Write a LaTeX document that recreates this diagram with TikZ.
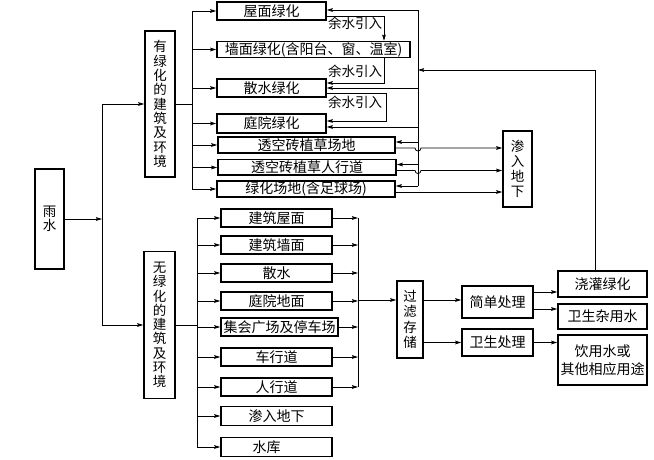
\documentclass[tikz,border=0pt]{standalone}
\usepackage{fontspec}
\newfontfamily\cjk{Noto Sans CJK SC}
\usetikzlibrary{arrows.meta,calc}
\begin{document}
\begin{tikzpicture}[x=1bp,y=-1bp,
  box/.style={draw,line width=1.5bp,inner sep=0pt,align=center,font=\cjk\fontsize{14bp}{16bp}\selectfont},
  vbox/.style={box,font=\cjk\fontsize{13.5bp}{14.3bp}\selectfont},
  ln/.style={line width=0.8bp},
  arr/.style={ln,-{Stealth[length=6bp,width=3.6bp,inset=0.8bp]}},
  lbl/.style={inner sep=0pt,font=\cjk\fontsize{13.5bp}{15bp}\selectfont}]
\useasboundingbox (0,0) rectangle (654,460);

% left part
\node[box,minimum width=29bp,minimum height=100bp,font=\cjk\fontsize{13.5bp}{14bp}\selectfont] (rain) at (49.5,219) {雨\\水};
\node[vbox,minimum width=30bp,minimum height=146bp] (g) at (160,104) {有\\绿\\化\\的\\建\\筑\\及\\环\\境};
\node[vbox,minimum width=31bp,minimum height=147bp] (ng) at (159.5,325) {无\\绿\\化\\的\\建\\筑\\及\\环\\境};

% upper boxes
\node[box,minimum width=109bp,minimum height=18bp] (roof) at (271.5,11) {屋面绿化};
\node[box,minimum width=193bp,minimum height=16bp] (wall) at (313.5,49.5) {墙面绿化(含阳台、窗、温室)};
\node[box,minimum width=109bp,minimum height=18bp] (sanshui) at (271.5,88) {散水绿化};
\node[box,minimum width=109bp,minimum height=19bp] (yard) at (271.5,123.5) {庭院绿化};
\node[box,minimum width=177bp,minimum height=16bp] (p1) at (306.5,145) {透空砖植草场地};
\node[box,minimum width=178bp,minimum height=15.5bp] (p2) at (307,167.5) {透空砖植草人行道};
\node[box,minimum width=178bp,minimum height=16bp] (p3) at (306,189) {绿化场地(含足球场)};
\node[vbox,minimum width=29bp,minimum height=76bp,font=\cjk\fontsize{13.5bp}{15bp}\selectfont] (seep) at (517.5,169) {渗\\入\\地\\下};

% lower boxes
\node[box,minimum width=111bp,minimum height=18bp] (b1) at (276.5,218) {建筑屋面};
\node[box,minimum width=111bp,minimum height=18bp] (b2) at (276.5,245) {建筑墙面};
\node[box,minimum width=111bp,minimum height=18bp] (b3) at (276.5,273) {散水};
\node[box,minimum width=111bp,minimum height=18bp] (b4) at (276.5,301) {庭院地面};
\node[box,minimum width=117bp,minimum height=18bp] (b5) at (279.5,327) {集会广场及停车场};
\node[box,minimum width=111bp,minimum height=18bp] (b6) at (276.5,357) {车行道};
\node[box,minimum width=111bp,minimum height=18bp] (b7) at (276.5,387) {人行道};
\node[box,minimum width=111bp,minimum height=19bp] (b8) at (276.5,416) {渗入地下};
\node[box,minimum width=111bp,minimum height=19bp] (b9) at (276.5,447) {水库\rule{20bp}{0pt}};

% right boxes
\node[vbox,minimum width=26bp,minimum height=77bp,font=\cjk\fontsize{13.5bp}{15.3bp}\selectfont] (filter) at (410,319.5) {过\\滤\\存\\储};
\node[box,minimum width=71bp,minimum height=32bp] (simple) at (497.5,302) {简单处理};
\node[box,minimum width=71bp,minimum height=27bp] (sanit) at (497.5,342.5) {卫生处理};
\node[box,minimum width=89bp,minimum height=26bp] (irrig) at (602.5,284) {浇灌绿化};
\node[box,minimum width=89bp,minimum height=25bp] (misc) at (602.5,316.5) {卫生杂用水};
\node[box,minimum width=89bp,minimum height=50bp,font=\cjk\fontsize{14bp}{18bp}\selectfont] (drink) at (602.5,360) {饮用水或\\其他相应用途};

% rain -> two groups
\coordinate (t1) at (102,219);
\draw[arr] (rain.east) -- (t1);
\draw[arr] (t1) |- (g.west);
\draw[arr] (t1) |- (ng.west);

% upper distribution
\coordinate (u) at (192,104);
\draw[ln] (g.east) -- (u);
\foreach \n in {roof,wall,sanshui,yard,p1,p2,p3} \draw[arr] (u) |- (\n.west);

% right trunk (return water)
\coordinate (rt) at (418,10);
\coordinate (p1i) at ($(p1.east)+(0,-3)$);
\coordinate (p2i) at ($(p2.east)+(0,-3)$);
\coordinate (p3i) at ($(p3.east)+(0,-3)$);
\coordinate (p1o) at ($(p1.east)+(0,3)$);
\coordinate (p2o) at ($(p2.east)+(0,3)$);
\coordinate (p3o) at ($(p3.east)+(0,3)$);
\coordinate (yi) at ($(yard.east)+(0,3.5)$);
\draw[ln] (rt) -- (rt |- p3i);
\draw[arr] (rt) -- (roof.east |- rt);
\draw[arr] (rt |- sanshui.east) -- (sanshui.east);
\draw[arr] (rt |- yi) -- (yi);
\draw[arr] (rt |- p1i) -- (p1i);
\draw[arr] (rt |- p2i) -- (p2i);
\draw[arr] (rt |- p3i) -- (p3i);

% to seep (with jumps)
\draw[arr] (p1o) -- ($(rt |- p1o)+(-3,0)$) .. controls +(0,4) and +(0,4) .. ($(rt |- p1o)+(3,0)$) -- (seep.west |- p1o);
\draw[arr] (p2o) -- ($(rt |- p2o)+(-3,0)$) .. controls +(0,4) and +(0,4) .. ($(rt |- p2o)+(3,0)$) -- (seep.west |- p2o);
\draw[arr] (p3o) -- (seep.west |- p3o);

% surplus water loops
\coordinate (yx) at (384,0);
\coordinate (yx2) at (386,0);
\coordinate (r1) at ($(roof.east)+(0,5)$);
\coordinate (s1i) at ($(sanshui.east)+(0,-5)$);
\coordinate (s1o) at ($(sanshui.east)+(0,5)$);
\coordinate (yin) at ($(yard.east)+(0,-2.5)$);
\draw[arr] (r1) -| (wall.north -| yx);
\draw[arr] (wall.south -| yx) |- (s1i);
\draw[arr] (s1o) -| (yx2 |- yin) -- (yin);
\node[lbl] (l1) at (355,23) {余水引入};
\node[lbl] (l2) at (355,71.5) {余水引入};
\node[lbl] (l3) at (355,102.5) {余水引入};

% feedback from irrigation
\coordinate (fb) at (595,70);
\draw[arr] (irrig.north -| fb) |- (rt |- fb);

% lower distribution
\coordinate (lt) at (197,325);
\draw[ln] (ng.east) -- (lt);
\foreach \n in {b1,b2,b3,b4,b5,b6,b7,b8,b9} \draw[arr] (lt) |- (\n.west);

% collection
\coordinate (mt) at (358,218);
\foreach \n in {b1,b2,b3,b4,b5,b6,b7} \draw[arr] (\n.east) -- (mt |- \n.east);
\draw[ln] (mt |- b1.east) -- (mt |- b7.east);
\coordinate (fin) at (358,300);
\draw[arr] (fin) -- (filter.west |- fin);
\draw[arr] (filter.east |- fin) -- (simple.west |- fin);
\draw[arr] (filter.east |- sanit.west) -- (sanit.west);
\coordinate (s1) at ($(simple.east)+(0,-10)$);
\coordinate (s2) at ($(simple.east)+(0,7)$);
\draw[arr] (s1) -- (irrig.west |- s1);
\draw[arr] (s2) -- (misc.west |- s2);
\draw[arr] (sanit.east) -- (drink.west |- sanit.east);
\end{tikzpicture}
\end{document}
